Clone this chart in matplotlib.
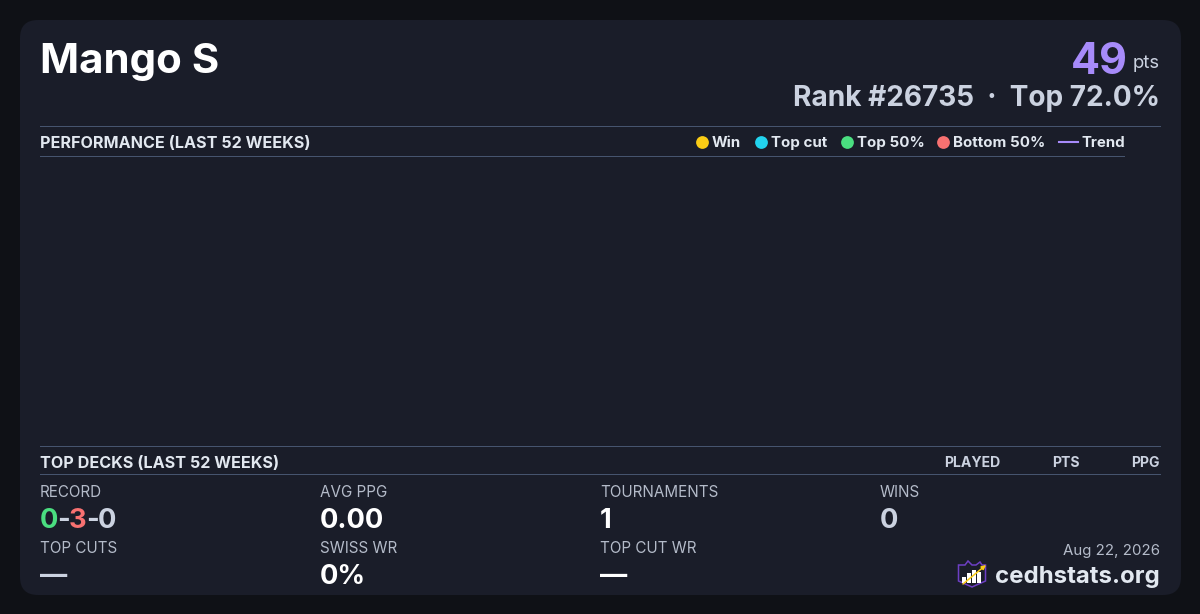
import matplotlib
matplotlib.use('Agg')
import matplotlib.pyplot as plt
from matplotlib.patches import FancyBboxPatch, Polygon, Rectangle

plt.rcParams['font.family'] = ['Inter', 'DejaVu Sans']

# card content
player = 'Mango S'
points = '49'
rank_line = 'Rank #26735  ·  Top 72.0%'
legend_labels = ['Win', 'Top cut', 'Top 50%', 'Bottom 50%']
legend_colors = ['#facc15', '#22d3ee', '#4ade80', '#f87171']
legend_x = [702, 761, 847, 943]
record_parts = ['0', '-', '3', '-', '0']
record_colors = ['#4ade80', '#cbd2e0', '#f87171', '#cbd2e0', '#cbd2e0']
top_labels = ['AVG PPG', 'TOURNAMENTS', 'WINS']
top_values = ['0.00', '1', '0']
top_colors = ['#ffffff', '#ffffff', '#cbd2e0']
top_x = [320, 600, 880]
low_labels = ['TOP CUTS', 'SWISS WR', 'TOP CUT WR']
low_values = ['—', '0%', '—']
low_colors = ['#cbd2e0', '#ffffff', '#ffffff']
low_x = [40, 320, 600]
deck_cols = ['PLAYED', 'PTS', 'PPG']
deck_x = [1000, 1080, 1160]
logo_bars = [6, 10, 13, 11]

BG = '#0f1116'
CARD = '#1a1d29'
RULE = '#46546e'
LIGHT = '#e2e8f0'
MUTED = '#b4bbc9'

fig = plt.figure(figsize=(12, 6.14), dpi=100, facecolor=BG)
ax = fig.add_axes([0, 0, 1, 1])
ax.set_xlim(0, 1200)
ax.set_ylim(614, 0)
ax.axis('off')

ax.add_patch(FancyBboxPatch((20, 20), 1161, 575, boxstyle='round,pad=0,rounding_size=18',
                            fc=CARD, ec='none', zorder=1))


def txt(x, y, s, size, color, weight='normal', ha='left', va='baseline'):
    return ax.text(x, y, s, fontsize=size * 0.72, color=color, fontweight=weight, ha=ha, va=va, zorder=3)


def rule(x0, x1, y):
    ax.add_patch(Rectangle((x0, y), x1 - x0, 1, fc=RULE, ec='none', zorder=2))


# header
txt(40, 73, player, 42, '#ffffff', 'bold')
txt(1127.5, 74, points, 43, '#a78bfa', 'bold', ha='right')
txt(1160, 68, 'pts', 18.5, '#cbd2e0', ha='right')
txt(1160, 106, rank_line, 28, '#cbd2e0', 'bold', ha='right')

# performance section
rule(40, 1161, 126)
rule(40, 1125, 156)
txt(40, 147.5, 'PERFORMANCE (LAST 52 WEEKS)', 16.15, LIGHT, 'bold')
for lx, lab, col in zip(legend_x, legend_labels, legend_colors):
    ax.plot(lx, 141.5, 'o', ms=9.2, color=col, mew=0, zorder=3)
    txt(lx + 10, 147, lab, 15.1, LIGHT, 'bold')
ax.plot([1059, 1078], [141.5, 141.5], color='#a78bfa', lw=1.5, zorder=3)
txt(1081, 147, 'Trend', 15, LIGHT, 'bold')

# top decks section
rule(40, 1161, 446)
rule(40, 1161, 474)
txt(40, 467.5, 'TOP DECKS (LAST 52 WEEKS)', 16.15, LIGHT, 'bold')
for cx, lab in zip(deck_x, deck_cols):
    txt(cx, 467, lab, 14, '#cbd2e0', 'bold', ha='right')

# stats
txt(40, 497, 'RECORD', 15.2, MUTED)
fig.canvas.draw()
rend = fig.canvas.get_renderer()
cur = 40
for part, col in zip(record_parts, record_colors):
    t = txt(cur, 528, part, 27.3, col, 'bold')
    cur = t.get_window_extent(rend).x1 - 1
for x, lab, val, col in zip(top_x, top_labels, top_values, top_colors):
    txt(x, 497, lab, 15.2, MUTED)
    txt(x, 528, val, 27.3, col, 'bold')
for x, lab, val, col in zip(low_x, low_labels, low_values, low_colors):
    txt(x, 553, lab, 15.2, MUTED)
    txt(x, 584, val, 27.3, col, 'bold')

# footer with logo
txt(1160, 555, 'Aug 22, 2026', 15, MUTED, ha='right')
txt(1160, 583, 'cedhstats.org', 24, LIGHT, 'bold', ha='right')
shield = [(958.5, 565), (965, 565), (968, 561), (972, 565), (976, 565), (980, 562), (982, 565), (985.5, 565),
          (985.5, 581), (972, 587), (958.5, 581)]
ax.add_patch(Polygon(shield, closed=True, fc='none', ec='#6d3fc4', lw=1.1, zorder=3))
for i, h in enumerate(logo_bars):
    bx = 962 + i * 5
    ax.add_patch(Rectangle((bx, 583 - h), 4, h, fc='#ffffff', ec='none', zorder=3))
ax.annotate('', xy=(986, 565), xytext=(963, 584), zorder=4,
            arrowprops=dict(arrowstyle='-|>', color='#facc15', lw=1.1, mutation_scale=6,
                            shrinkA=0, shrinkB=0))

fig.savefig('out.png', dpi=100, facecolor=BG)
